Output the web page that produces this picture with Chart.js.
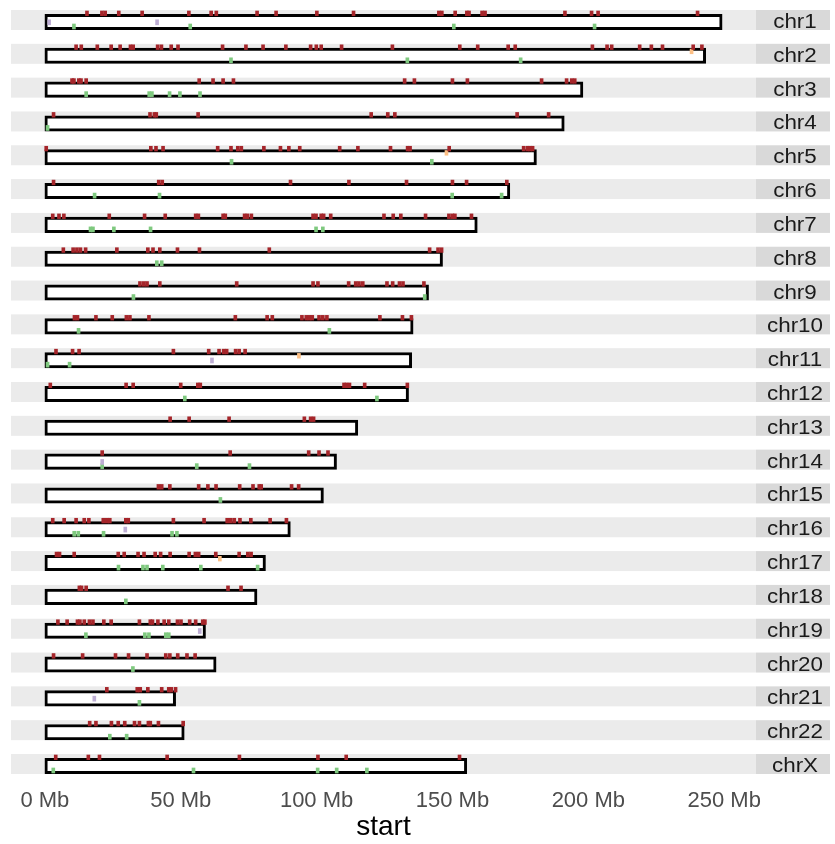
<!DOCTYPE html>
<html>
<head>
<meta charset="utf-8">
<script src="https://cdn.jsdelivr.net/npm/chart.js@4.4.0/dist/chart.umd.min.js"></script>
<style>
  html, body { margin: 0; padding: 0; background: #fff; }
  canvas { display: block; }
</style>
</head>
<body>
<canvas id="karyo" width="835" height="844"></canvas>
<script>
// chromosome names and lengths (Mb, hg19)
const chromosomes = ['chr1', 'chr2', 'chr3', 'chr4', 'chr5', 'chr6', 'chr7', 'chr8', 'chr9', 'chr10', 'chr11', 'chr12',
  'chr13', 'chr14', 'chr15', 'chr16', 'chr17', 'chr18', 'chr19', 'chr20', 'chr21', 'chr22', 'chrX'];
const chromLengths = [249.25, 243.2, 198.02, 191.15, 180.92, 171.12, 159.14, 146.36, 141.21, 135.53, 135.01, 133.85,
  115.17, 107.35, 102.53, 90.35, 81.2, 78.08, 59.13, 63.03, 48.13, 51.3, 155.27];
const xTicks = [0, 50, 100, 150, 200, 250];

// mark start positions (Mb), one list per chromosome
const redMarks = [
  [15.5, 21.0, 22.2, 27.2, 35.8, 53.0, 61.2, 63.1, 78.1, 85.1, 100.1, 113.6, 145.0, 146.1, 151.0, 155.3, 156.1, 160.9, 162.0, 191.4, 201.2, 203.6, 240.2],
  [11.5, 13.4, 19.3, 24.4, 27.7, 31.5, 32.5, 41.5, 42.9, 46.5, 49.0, 65.4, 74.0, 80.3, 88.7, 97.8, 99.9, 101.7, 109.2, 127.9, 152.7, 159.3, 170.5, 173.1, 201.5, 206.9, 208.6, 218.9, 223.2, 227.3, 238.6, 241.8],
  [10.0, 10.7, 12.5, 13.3, 15.2, 56.8, 61.9, 65.6, 69.4, 132.4, 136.0, 150.0, 155.5, 182.8, 192.0, 193.9, 195.0],
  [3.2, 38.7, 40.3, 41.0, 56.4, 120.1, 126.2, 128.8, 173.8, 185.4],
  [0.5, 39.0, 40.9, 43.5, 63.6, 68.5, 71.0, 72.3, 80.6, 86.7, 89.8, 93.8, 108.5, 115.2, 127.2, 133.5, 134.4, 148.8, 176.2, 177.6, 178.6, 179.5],
  [3.2, 41.9, 43.2, 90.4, 111.9, 133.1, 150.0, 155.2, 170.0],
  [2.9, 5.2, 7.0, 23.7, 36.7, 44.3, 55.5, 56.5, 65.6, 66.4, 73.5, 74.5, 76.0, 98.7, 99.8, 101.7, 102.6, 105.2, 124.8, 128.2, 131.0, 140.1, 148.7, 150.0, 150.9, 157.0],
  [6.8, 10.4, 11.8, 13.1, 15.0, 26.5, 37.9, 39.8, 42.3, 48.8, 56.9, 82.6, 141.6, 144.7, 146.0],
  [35.0, 36.4, 37.6, 42.3, 70.6, 98.7, 100.5, 111.8, 114.4, 115.6, 117.0, 125.9, 128.0, 130.5, 131.8, 139.5],
  [10.9, 12.0, 18.8, 24.8, 30.0, 31.3, 38.3, 70.1, 81.8, 83.7, 94.6, 96.2, 97.4, 98.4, 100.9, 102.3, 103.8, 123.3, 131.6, 134.9],
  [4.1, 10.2, 12.6, 47.3, 60.3, 64.1, 65.8, 66.9, 70.2, 71.5, 73.7],
  [2.0, 29.9, 32.5, 50.0, 56.3, 57.2, 110.1, 111.0, 112.1, 117.7, 133.4],
  [46.1, 53.1, 67.8, 95.5, 97.8, 98.9],
  [21.1, 68.2, 97.1, 100.9, 104.2],
  [41.8, 43.0, 46.0, 56.6, 60.0, 63.0, 71.7, 76.6, 78.9, 79.6, 90.8, 93.4],
  [2.9, 7.1, 11.5, 14.5, 16.2, 21.5, 22.8, 23.9, 29.8, 30.7, 47.3, 58.6, 67.1, 68.4, 69.7, 71.8, 75.8, 82.9, 88.9],
  [4.3, 5.4, 10.8, 27.0, 29.2, 34.3, 36.5, 40.6, 42.6, 46.1, 53.1, 55.4, 56.6, 62.9, 71.5, 74.7, 75.9],
  [12.7, 13.5, 15.2, 67.4, 72.2],
  [4.8, 8.2, 12.0, 12.9, 14.5, 16.4, 17.7, 21.7, 24.4, 34.8, 38.8, 39.6, 41.6, 43.9, 45.6, 48.8, 50.1, 53.3, 55.5, 58.1, 58.9],
  [3.2, 13.9, 26.0, 30.8, 37.6, 44.5, 46.0, 48.9, 52.3, 55.3],
  [22.8, 34.0, 35.1, 37.9, 43.0, 45.6, 46.5, 48.1],
  [16.5, 18.8, 24.5, 27.0, 29.4, 33.0, 34.8, 38.1, 38.8, 41.8, 50.9],
  [4.0, 16.0, 20.1, 45.0, 71.6, 100.5, 110.9, 152.6]
];
const greenMarks = [
  [10.7, 53.5, 150.5, 202.3], [68.5, 133.4, 175.1], [15.2, 38.4, 39.4, 45.9, 49.7, 57.1], [1.0], [68.7, 142.4],
  [18.3, 42.2, 149.9, 168.1], [16.8, 17.7, 25.4, 38.9, 99.8, 102.3], [41.2, 43.0], [32.6, 139.8], [12.4, 104.7],
  [1.0, 9.1], [51.5, 122.2], [], [21.1, 55.9, 75.3], [64.6], [10.8, 12.3, 21.6, 46.8, 48.6],
  [27.1, 36.1, 37.6, 43.4, 57.4, 78.3], [29.8], [15.1, 36.8, 38.3, 44.5, 45.6], [32.4], [34.8], [23.9, 30.1],
  [3.1, 54.7, 100.4, 107.4, 118.5]
];
const purpleMarks = [
  [1.6, 41.3], [], [], [], [], [], [], [], [], [], [61.5], [], [], [21.1], [], [29.6], [], [], [57.0], [], [18.2], [], []
];
const orangeMarks = [
  [], [238.0], [], [], [147.8], [], [], [], [], [], [93.5], [], [], [], [], [], [64.4], [], [], [], [], [], []
];

const FONT = "'Liberation Sans', Arial, sans-serif";
const PANEL_HALF = 0.2957;   // half panel height, in row units
const MARK_HALF = 0.55;      // half mark width, Mb
const STRIP_W = 74;

function markSet(marks, offset, color, thickness) {
  const data = [];
  marks.forEach((list, i) => {
    list.forEach(mb => data.push({ x: [mb - MARK_HALF, mb + MARK_HALF], y: i + offset }));
  });
  return {
    data,
    backgroundColor: color,
    borderWidth: 0,
    barThickness: thickness,
    stack: 'all',
    order: 1,
  };
}

const panelsPlugin = {
  id: 'panels',
  beforeDatasetsDraw(chart) {
    const { ctx, chartArea, scales: { y } } = chart;
    ctx.save();
    chromosomes.forEach((name, i) => {
      const top = y.getPixelForValue(i - PANEL_HALF);
      const bottom = y.getPixelForValue(i + PANEL_HALF);
      ctx.fillStyle = '#EBEBEB';
      ctx.fillRect(chartArea.left, top, chartArea.right - chartArea.left, bottom - top);
      ctx.fillStyle = '#D9D9D9';
      ctx.fillRect(chartArea.right, top, STRIP_W, bottom - top);

      ctx.save();
      ctx.fillStyle = '#1A1A1A';
      ctx.font = '20px ' + FONT;
      ctx.textAlign = 'center';
      ctx.textBaseline = 'alphabetic';
      ctx.translate(chartArea.right + STRIP_W / 2 + 2, bottom - 2);
      ctx.scale(1.12, 1);
      ctx.fillText(name, 0, 0);
      ctx.restore();
    });
    ctx.restore();
  }
};

new Chart(document.getElementById('karyo'), {
  type: 'bar',
  data: {
    datasets: [
      markSet(redMarks, -0.1966, '#A5252A', 4.7),
      markSet(orangeMarks, -0.071, '#FDC086', 4.7),
      markSet(purpleMarks, 0.068, '#BEAED4', 5),
      markSet(greenMarks, 0.192, '#7FC97F', 5),
      {
        data: chromLengths.map((len, i) => ({ x: [0, len], y: i + 0.059 })),
        backgroundColor: '#FFFFFF',
        borderColor: '#000000',
        borderWidth: 3,
        borderSkipped: false,
        barThickness: 15.4,
        stack: 'all',
        order: 10,
      },
    ],
  },
  options: {
    indexAxis: 'y',
    responsive: false,
    animation: false,
    events: [],
    layout: { padding: { left: 11, right: 79, top: 10, bottom: 0 } },
    plugins: {
      legend: { display: false },
      tooltip: { enabled: false },
    },
    scales: {
      x: {
        type: 'linear',
        min: -12.46,
        max: 261.71,
        stacked: false,
        grid: { display: false },
        border: { display: false },
        afterBuildTicks: s => { s.ticks = xTicks.map(v => ({ value: v })); },
        afterFit: s => { s.height = 70; },
        ticks: {
          callback: v => v + ' Mb',
          color: '#4D4D4D',
          font: { family: FONT, size: 22 },
          padding: 6,
          maxRotation: 0,
          autoSkip: false,
        },
        title: {
          display: true,
          text: 'start',
          color: '#000000',
          font: { family: FONT, size: 28 },
          padding: { top: 0, bottom: 0 },
        },
      },
      y: {
        type: 'linear',
        reverse: true,
        offset: false,
        min: -PANEL_HALF,
        max: chromosomes.length - 1 + PANEL_HALF,
        display: false,
      },
    },
  },
  plugins: [panelsPlugin],
});
</script>
</body>
</html>
